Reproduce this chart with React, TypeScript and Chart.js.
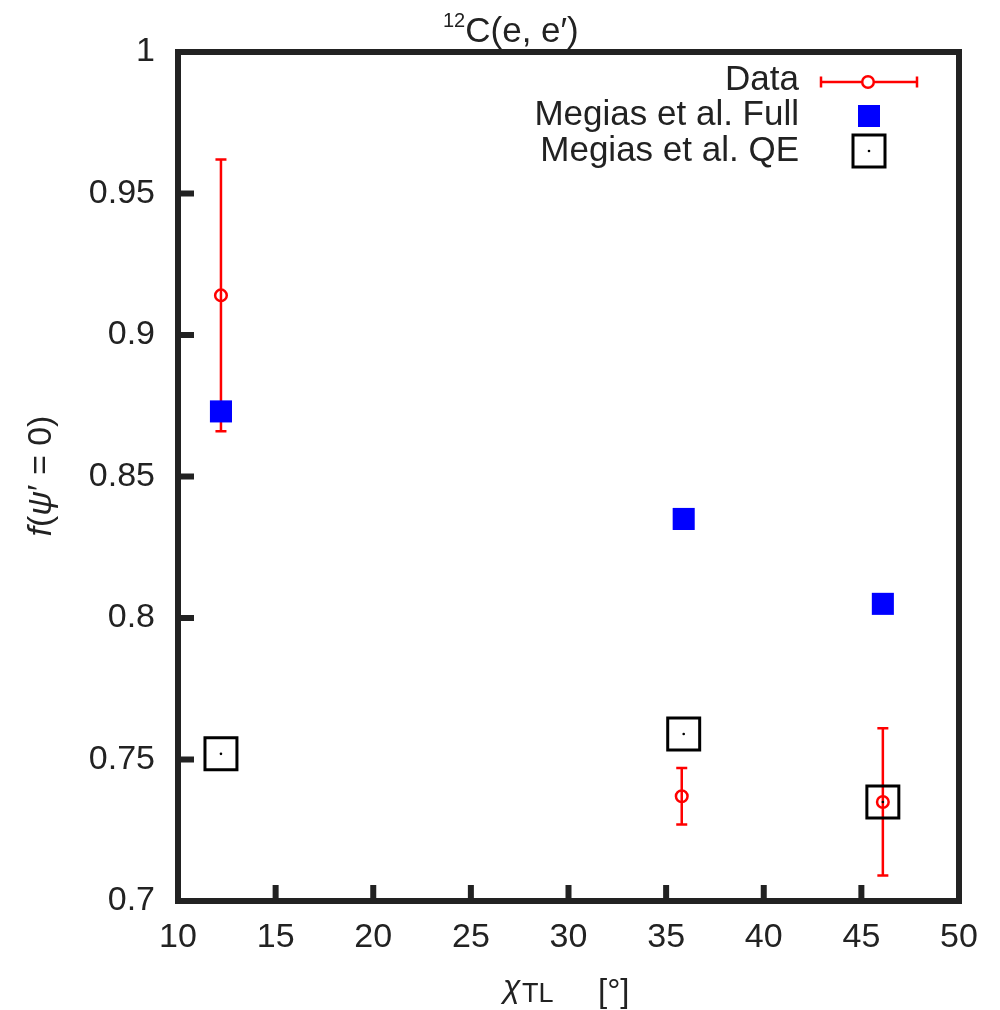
import React, { useEffect, useRef } from "react";
import { Chart, registerables } from "chart.js";

Chart.register(...registerables);

// ---- data ----
const xTickLabels = ["10", "15", "20", "25", "30", "35", "40", "45", "50"];
const yTickLabels = ["0.7", "0.75", "0.8", "0.85", "0.9", "0.95", "1"];

const dataX = [12.2, 35.8, 46.1];
const dataY = [0.914, 0.737, 0.735];
const dataLow = [0.866, 0.727, 0.709];
const dataHigh = [0.962, 0.747, 0.761];

const fullX = [12.2, 35.9, 46.1];
const fullY = [0.873, 0.835, 0.805];

const qeX = [12.2, 35.9, 46.1];
const qeY = [0.752, 0.759, 0.735];

const legendLabels = ["Data", "Megias et al. Full", "Megias et al. QE"];

const RED = "#ff0000";
const BLUE = "#0000ff";
const INK = "#222222";
const FONT = "'Liberation Sans', Arial, Helvetica, sans-serif";

type Part = { text: string; font: string; dy?: number };

function drawParts(ctx: CanvasRenderingContext2D, parts: Part[], x: number, y: number, align: "left" | "center") {
  let total = 0;
  const widths = parts.map((p) => {
    ctx.font = p.font;
    const w = ctx.measureText(p.text).width;
    total += w;
    return w;
  });
  let cx = align === "center" ? x - total / 2 : x;
  ctx.textAlign = "left";
  parts.forEach((p, i) => {
    ctx.font = p.font;
    ctx.fillText(p.text, cx, y + (p.dy || 0));
    cx += widths[i];
  });
}

const customPlugin = {
  id: "custom",
  beforeDatasetsDraw(chart: any) {
    const { ctx } = chart;
    const xs = chart.scales.x;
    const ys = chart.scales.y;
    ctx.save();
    ctx.strokeStyle = RED;
    ctx.lineWidth = 2.5;
    for (let i = 0; i < dataX.length; i++) {
      const px = xs.getPixelForValue(dataX[i]);
      const pl = ys.getPixelForValue(dataLow[i]);
      const ph = ys.getPixelForValue(dataHigh[i]);
      ctx.beginPath();
      ctx.moveTo(px, pl);
      ctx.lineTo(px, ph);
      ctx.moveTo(px - 5.5, pl);
      ctx.lineTo(px + 5.5, pl);
      ctx.moveTo(px - 5.5, ph);
      ctx.lineTo(px + 5.5, ph);
      ctx.stroke();
    }
    ctx.restore();
  },
  afterDraw(chart: any) {
    const { ctx, chartArea } = chart;
    const { left, right, top, bottom } = chartArea;
    const xs = chart.scales.x;
    const ys = chart.scales.y;
    ctx.save();
    // frame
    ctx.strokeStyle = INK;
    ctx.lineWidth = 6;
    ctx.strokeRect(left, top, right - left, bottom - top);
    // inward ticks
    ctx.lineWidth = 6;
    ctx.beginPath();
    xs.ticks.forEach((t: any) => {
      if (t.value <= xs.min || t.value >= xs.max) return;
      const px = xs.getPixelForValue(t.value);
      ctx.moveTo(px, bottom);
      ctx.lineTo(px, bottom - 16);
    });
    ys.ticks.forEach((t: any) => {
      if (t.value <= ys.min + 1e-9 || t.value >= ys.max - 1e-9) return;
      const py = ys.getPixelForValue(t.value);
      ctx.moveTo(left, py);
      ctx.lineTo(left + 16, py);
    });
    ctx.stroke();

    ctx.fillStyle = INK;
    ctx.textBaseline = "alphabetic";
    // title
    drawParts(
      ctx,
      [
        { text: "12", font: `20px ${FONT}`, dy: -15 },
        { text: "C(e, e\u2032)", font: `35px ${FONT}` },
      ],
      443,
      42,
      "left"
    );
    // x title
    drawParts(ctx, [{ text: "\u03c7", font: `italic 32px ${FONT}` }], 503, 997, "left");
    drawParts(ctx, [{ text: "TL", font: `27px ${FONT}` }], 522, 1002, "left");
    drawParts(ctx, [{ text: "[\u00b0]", font: `33px ${FONT}` }], 598, 1002, "left");
    // y title
    ctx.save();
    ctx.translate(51, 476);
    ctx.rotate(-Math.PI / 2);
    drawParts(
      ctx,
      [
        { text: "f", font: `italic 34px ${FONT}` },
        { text: "(", font: `34px ${FONT}` },
        { text: "\u03c8", font: `italic 34px ${FONT}` },
        { text: "\u2032 = 0)", font: `34px ${FONT}` },
      ],
      0,
      0,
      "center"
    );
    ctx.restore();

    // legend
    const textRight = 799;
    const symX = 869;
    const rows = [79, 114, 150];
    ctx.font = `35px ${FONT}`;
    ctx.textAlign = "right";
    ctx.textBaseline = "middle";
    legendLabels.forEach((l, i) => ctx.fillText(l, textRight, rows[i] + 1));
    // Data symbol
    ctx.strokeStyle = RED;
    ctx.lineWidth = 2.5;
    ctx.beginPath();
    const dy = rows[0] + 3;
    ctx.moveTo(821, dy);
    ctx.lineTo(917, dy);
    ctx.moveTo(821, dy - 5.5);
    ctx.lineTo(821, dy + 5.5);
    ctx.moveTo(917, dy - 5.5);
    ctx.lineTo(917, dy + 5.5);
    ctx.stroke();
    ctx.beginPath();
    ctx.arc(symX - 1, dy, 5.8, 0, Math.PI * 2);
    ctx.fillStyle = "#ffffff";
    ctx.fill();
    ctx.stroke();
    // Full symbol
    ctx.fillStyle = BLUE;
    ctx.fillRect(symX - 11, rows[1] + 2 - 11, 22, 22);
    // QE symbol
    ctx.strokeStyle = "#000";
    ctx.lineWidth = 3;
    ctx.strokeRect(symX - 16, rows[2] + 1 - 16, 32, 32);
    ctx.fillStyle = "#000";
    ctx.beginPath();
    ctx.arc(symX, rows[2] + 1, 1.3, 0, Math.PI * 2);
    ctx.fill();
    ctx.restore();
  },
};

export default function App() {
  const ref = useRef<HTMLCanvasElement | null>(null);
  useEffect(() => {
    if (!ref.current) return;
    const chart = new Chart(ref.current, {
      type: "scatter",
      data: {
        datasets: [
          {
            label: legendLabels[0],
            data: dataX.map((x, i) => ({ x, y: dataY[i] })),
            pointStyle: "circle",
            pointRadius: 5.8,
            borderWidth: 2.5,
            borderColor: RED,
            backgroundColor: "rgba(0,0,0,0)",
            order: 0,
          },
          {
            label: legendLabels[1],
            data: fullX.map((x, i) => ({ x, y: fullY[i] })),
            pointStyle: "rect",
            pointRadius: 15.6,
            borderWidth: 0,
            borderColor: BLUE,
            backgroundColor: BLUE,
            order: 2,
          },
          {
            label: legendLabels[2],
            data: qeX.map((x, i) => ({ x, y: qeY[i] })),
            pointStyle: "rect",
            pointRadius: 22.6,
            borderWidth: 3,
            borderColor: "#000000",
            backgroundColor: "rgba(0,0,0,0)",
            order: 1,
          },
          {
            label: "QE centre",
            data: qeX.map((x, i) => ({ x, y: qeY[i] })),
            pointStyle: "circle",
            pointRadius: 1.3,
            borderWidth: 0,
            backgroundColor: "#000000",
            order: 1,
          },
        ],
      },
      options: {
        animation: false,
        responsive: false,
        events: [],
        layout: { padding: { top: 52, right: 41, left: 0, bottom: 0 } },
        plugins: {
          legend: { display: false },
          tooltip: { enabled: false },
          title: { display: false },
        },
        scales: {
          x: {
            type: "linear",
            min: 10,
            max: 50,
            grid: { display: false, drawTicks: false },
            border: { display: false },
            ticks: {
              stepSize: 5,
              padding: 16,
              color: INK,
              font: { family: FONT, size: 34 },
              maxRotation: 0,
              callback: (_v: any, i: number) => xTickLabels[i],
            },
            afterFit: (s: any) => {
              s.height = 109;
            },
          },
          y: {
            type: "linear",
            min: 0.7,
            max: 1,
            grid: { display: false, drawTicks: false },
            border: { display: false },
            ticks: {
              stepSize: 0.05,
              padding: 23,
              color: INK,
              font: { family: FONT, size: 34 },
              callback: (_v: any, i: number) => yTickLabels[i],
            },
            afterFit: (s: any) => {
              s.width = 178;
            },
          },
        },
      },
      plugins: [customPlugin],
    });
    return () => chart.destroy();
  }, []);
  return (
    <div style={{ position: "absolute", left: 0, top: 0, width: 1000, height: 1010, background: "#fff" }}>
      <canvas ref={ref} width={1000} height={1010} style={{ display: "block" }} />
    </div>
  );
}
